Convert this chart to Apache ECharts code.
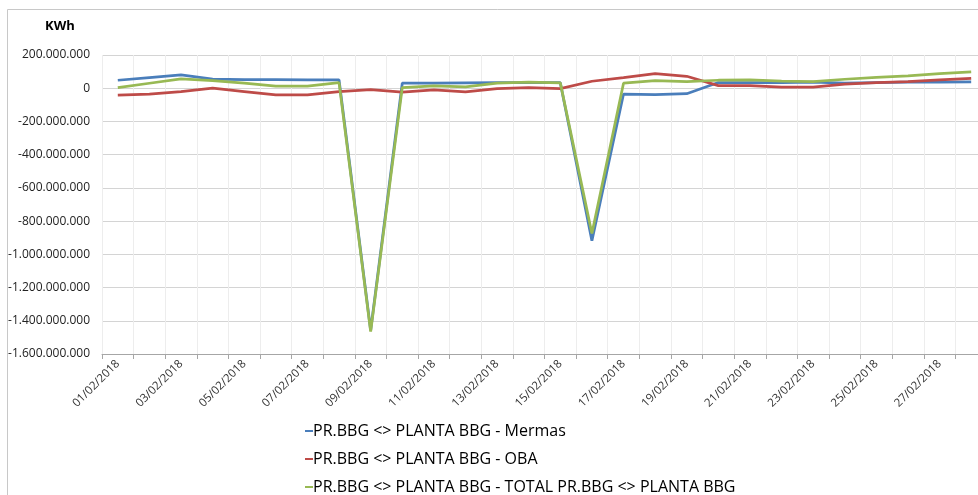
<!DOCTYPE html>
<html>
<head>
<meta charset="utf-8">
<script src="https://cdn.jsdelivr.net/npm/echarts@6/dist/echarts.min.js"></script>
<style>
html,body{margin:0;padding:0;background:#fff;overflow:hidden;}
#c{width:987px;height:495px;}
</style>
</head>
<body>
<div id="c"></div>
<script>
const categories = ['01/02/2018','02/02/2018','03/02/2018','04/02/2018','05/02/2018','06/02/2018','07/02/2018','08/02/2018','09/02/2018','10/02/2018','11/02/2018','12/02/2018','13/02/2018','14/02/2018','15/02/2018','16/02/2018','17/02/2018','18/02/2018','19/02/2018','20/02/2018','21/02/2018','22/02/2018','23/02/2018','24/02/2018','25/02/2018','26/02/2018','27/02/2018','28/02/2018'];
const mermas = [48e6, 64e6, 80e6, 55e6, 52e6, 52e6, 51e6, 50e6, -1457e6, 30e6, 30e6, 32e6, 33e6, 33e6, 33e6, -918e6, -35e6, -39e6, -33e6, 34e6, 34e6, 34e6, 36e6, 30e6, 34e6, 36e6, 36e6, 38e6];
const oba = [-42e6, -35e6, -20e6, 0, -20e6, -40e6, -40e6, -20e6, -8e6, -24e6, -10e6, -22e6, -2e6, 4e6, -2e6, 42e6, 64e6, 88e6, 72e6, 16e6, 16e6, 6e6, 6e6, 24e6, 34e6, 40e6, 50e6, 60e6];
const total = [3e6, 30e6, 56e6, 46e6, 30e6, 12e6, 12e6, 34e6, -1465e6, 4e6, 14e6, 8e6, 30e6, 36e6, 32e6, -875e6, 30e6, 46e6, 40e6, 48e6, 50e6, 42e6, 40e6, 54e6, 66e6, 74e6, 88e6, 98e6];
const seriesNames = ['PR.BBG <> PLANTA BBG - Mermas','PR.BBG <> PLANTA BBG - OBA','PR.BBG <> PLANTA BBG - TOTAL PR.BBG <> PLANTA BBG'];
const colors = ['#4a7ebb','#be4b48','#98b954'];

function fmt(v){
  const s = Math.abs(Math.round(v)).toString().replace(/\B(?=(\d{3})+(?!\d))/g,'.');
  return (v < 0 ? '-' : '') + s;
}
const font = '"Open Sans", "Noto Sans", sans-serif';
const chart = echarts.init(document.getElementById('c'));
chart.setOption({
  animation:false,
  backgroundColor:'#fff',
  color: colors,
  graphic:[{type:'rect',shape:{x:7.5,y:9.5,width:1100,height:1000},style:{fill:'none',stroke:'#c8c8c8',lineWidth:1},silent:true,z:-1}],
  title:{text:'KWh',left:40,top:15,textStyle:{fontFamily:font,fontSize:13,fontWeight:'bold',color:'#000'}},
  grid:{left:102,top:55,right:0,height:299,containLabel:false},
  legend:{
    orient:'vertical',left:300,top:417,height:300,itemWidth:8,itemHeight:2,itemGap:10,icon:'rect',
    textStyle:{fontFamily:font,fontSize:16,color:'#000',lineHeight:18,padding:[0,0,0,-5]},
    data:seriesNames
  },
  xAxis:{
    type:'category',data:categories,boundaryGap:true,
    axisLine:{onZero:false,lineStyle:{color:'#a6a6a6',width:1}},
    axisTick:{show:true,interval:0,length:5,lineStyle:{color:'#a6a6a6'}},
    splitLine:{show:true,interval:0,lineStyle:{color:'#ededed',width:1}},
    axisLabel:{interval:1,rotate:45,fontFamily:font,fontSize:11.5,color:'#333',margin:8}
  },
  yAxis:{
    type:'value',min:-1600000000,max:200000000,interval:200000000,
    axisLine:{show:false},axisTick:{show:false},
    splitLine:{lineStyle:{color:'#d4d4d4',width:1}},
    axisLabel:{formatter:fmt,fontFamily:font,fontSize:12,color:'#222',margin:12}
  },
  series:[
    {name:seriesNames[0],type:'line',data:mermas,symbol:'none',lineStyle:{width:2.75,color:colors[0]}},
    {name:seriesNames[1],type:'line',data:oba,symbol:'none',lineStyle:{width:2.75,color:colors[1]}},
    {name:seriesNames[2],type:'line',data:total,symbol:'none',lineStyle:{width:2.75,color:colors[2]}}
  ]
});
</script>
</body>
</html>
